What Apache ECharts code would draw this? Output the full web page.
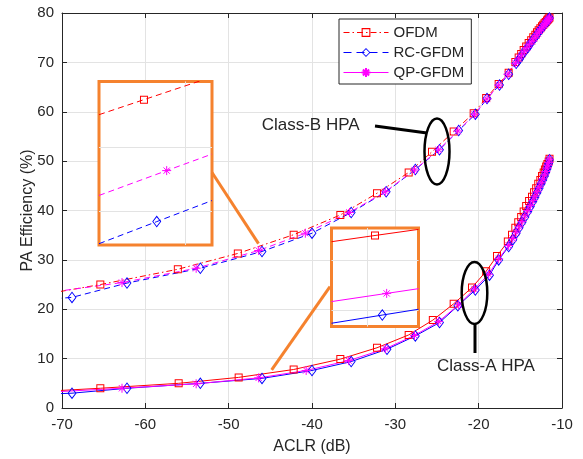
<!DOCTYPE html>
<html>
<head>
<meta charset="utf-8">
<script src="https://cdn.jsdelivr.net/npm/echarts@6/dist/echarts.min.js"></script>
<style>
html, body { margin: 0; background: #fff; }
#chart { width: 583px; height: 459px; }
</style>
</head>
<body>
<div id="chart"></div>
<script>
// Class-B HPA curves (ACLR in dB, efficiency in %)
const ofdmBX = [-75, -65.4, -56.1, -48.9, -42.2, -36.6, -32.2, -28.4, -25.6, -23.0, -20.6, -19.1, -17.6, -16.4, -15.6, -15.2, -14.9, -14.6, -14.3, -14.0, -13.7, -13.45, -13.2, -13.0, -12.8, -12.6, -12.4, -12.25, -12.1, -11.95, -11.8, -11.7, -11.6, -11.5];
const ofdmBY = [22.2, 25.0, 28.1, 31.3, 35.1, 39.1, 43.5, 47.7, 51.9, 56.0, 59.7, 62.8, 65.6, 67.9, 70.1, 71.0, 71.7, 72.5, 73.2, 73.9, 74.5, 75.1, 75.6, 76.1, 76.5, 76.9, 77.3, 77.6, 77.9, 78.2, 78.5, 78.7, 78.9, 79.1];
const rcBX = [-72, -68.8, -62.2, -53.4, -46.0, -40.0, -35.3, -31.1, -27.6, -24.7, -22.4, -20.4, -19.0, -17.5, -16.4, -15.5, -15.1, -14.8, -14.45, -14.1, -13.85, -13.6, -13.35, -13.1, -12.9, -12.7, -12.5, -12.3, -12.15, -12.0, -11.85, -11.7, -11.6, -11.5];
const rcBY = [22.0, 22.4, 25.3, 28.3, 31.7, 35.4, 39.6, 43.8, 48.3, 52.3, 56.2, 59.5, 62.7, 65.4, 67.6, 69.8, 70.7, 71.5, 72.3, 73.0, 73.7, 74.3, 74.9, 75.4, 75.9, 76.4, 76.8, 77.2, 77.6, 77.9, 78.2, 78.5, 78.8, 79.0];
const qpBX = [-72, -62.8, -53.9, -46.4, -40.8, -35.5, -31.2, -27.7, -24.8, -22.5, -20.5, -19.0, -17.6, -16.5, -15.6, -15.2, -14.85, -14.5, -14.2, -13.9, -13.6, -13.35, -13.1, -12.9, -12.7, -12.5, -12.3, -12.15, -12.0, -11.85, -11.7, -11.6, -11.5];
const qpBY = [23.3, 25.4, 28.3, 31.9, 35.4, 39.6, 43.8, 48.2, 52.3, 56.1, 59.5, 62.6, 65.4, 67.6, 69.8, 70.7, 71.5, 72.3, 73.0, 73.7, 74.3, 74.9, 75.4, 75.9, 76.4, 76.8, 77.2, 77.6, 77.9, 78.2, 78.5, 78.8, 79.0];

// Class-A HPA curves
const ofdmAX = [-75, -65.4, -56.0, -48.8, -42.2, -36.6, -32.2, -28.4, -25.5, -23.0, -20.8, -19.1, -17.8, -16.5, -16.0, -15.6, -15.25, -14.9, -14.6, -14.3, -13.95, -13.6, -13.35, -13.1, -12.85, -12.6, -12.4, -12.2, -12.05, -11.9, -11.75, -11.6, -11.5];
const ofdmAY = [3.1, 4.0, 5.0, 6.2, 7.8, 9.9, 12.2, 14.8, 17.8, 21.1, 24.4, 27.7, 30.8, 33.7, 35.1, 36.5, 37.6, 38.7, 39.8, 40.9, 41.9, 42.8, 43.7, 44.5, 45.4, 46.2, 47.0, 47.7, 48.3, 48.9, 49.4, 49.9, 50.5];
const rcAX = [-72, -68.8, -62.2, -53.4, -46.0, -40.0, -35.3, -31.0, -27.6, -24.7, -22.5, -20.4, -18.7, -17.6, -16.4, -15.9, -15.5, -15.15, -14.8, -14.45, -14.1, -13.8, -13.5, -13.25, -13.0, -12.75, -12.5, -12.3, -12.1, -11.95, -11.8, -11.7, -11.6, -11.5];
const rcAY = [2.8, 3.0, 4.0, 5.0, 6.0, 7.6, 9.4, 11.9, 14.6, 17.3, 20.7, 23.9, 26.9, 30.0, 32.7, 34.1, 35.4, 36.5, 37.6, 38.7, 39.8, 40.8, 41.8, 42.7, 43.6, 44.5, 45.4, 46.2, 47.0, 47.7, 48.4, 49.0, 49.5, 50.3];
const qpAX = [-75, -62.8, -53.9, -46.4, -40.7, -35.6, -31.2, -27.7, -24.8, -22.4, -20.5, -18.8, -17.6, -16.4, -15.9, -15.5, -15.15, -14.8, -14.45, -14.1, -13.8, -13.5, -13.25, -13.0, -12.75, -12.5, -12.3, -12.1, -11.95, -11.8, -11.7, -11.6, -11.5];
const qpAY = [2.9, 4.0, 4.9, 6.1, 7.6, 9.6, 12.0, 14.7, 17.5, 20.9, 24.1, 27.1, 30.2, 32.9, 34.3, 35.6, 36.7, 37.8, 38.9, 40.0, 41.0, 42.0, 42.9, 43.8, 44.7, 45.6, 46.4, 47.2, 47.9, 48.6, 49.2, 49.7, 50.4];

// zoomed insets (own 0..10 units), middle point carries the marker
const insBOfdmX = [0, 3.98, 10], insBOfdmY = [7.97, 8.89, 10.28];
const insBQpX = [0, 5.99, 10], insBQpY = [3.03, 4.55, 5.56];
const insBRcX = [0, 5.11, 10], insBRcY = [0.08, 1.43, 2.72];
const insAOfdmX = [0, 5.0, 10], insAOfdmY = [8.61, 9.24, 9.86];
const insAQpX = [0, 6.34, 10], insAQpY = [2.53, 3.36, 3.84];
const insARcX = [0, 5.84, 10], insARcY = [0.33, 1.16, 1.75];
const insBVLines = [7.67], insBHLines = [5.95, 2.08];
const insAVLines = [4.11], insAHLines = [6.77, 1.70];

// connector lines from the insets to the curves
const connBX = [-52.0, -46.42], connBY = [47.7, 33.3];
const connAX = [-37.84, -44.84], connAY = [24.57, 7.70];

const RED = '#ff0000', BLUE = '#0000ff', MAG = '#ff00ff', ORANGE = '#f5822e', INK = '#262626';
const SQ = 'path://M0,0H8V8H0Z M1,1V7H7V1Z';
const DIA = 'path://M0,0L4.5,6L0,12L-4.5,6Z M0,1.6L-3.4,6L0,10.4L3.4,6Z';
const STAR = 'path://M5,0V10M0,5H10M1.5,1.5L8.5,8.5M1.5,8.5L8.5,1.5';
const FONT = 'Liberation Sans';

function pairs(xs, ys) { return xs.map((x, i) => [x, ys[i]]); }

const styles = {
    'OFDM': { color: RED, symbol: SQ, size: 8, border: 0 },
    'RC-GFDM': { color: BLUE, symbol: DIA, size: [9, 12], border: 0 },
    'QP-GFDM': { color: MAG, symbol: STAR, size: 9, border: 1 }
};

function mainSeries(name, xs, ys, dash) {
    const s = styles[name];
    return {
        name: name, type: 'line', xAxisIndex: 0, yAxisIndex: 0,
        data: pairs(xs, ys),
        symbol: s.symbol, symbolSize: s.size,
        itemStyle: { color: s.color, borderColor: s.color, borderWidth: s.border },
        lineStyle: { color: s.color, width: 1, type: dash },
        emphasis: { disabled: true }
    };
}

function insetSeries(name, axis, xs, ys, dash, vl, hl) {
    const s = styles[name];
    const ser = {
        type: 'line', xAxisIndex: axis, yAxisIndex: axis,
        data: xs.map((x, i) => ({ value: [x, ys[i]], symbol: i === 1 ? s.symbol : 'none' })),
        symbol: s.symbol, symbolSize: s.size,
        itemStyle: { color: s.color, borderColor: s.color, borderWidth: s.border },
        lineStyle: { color: s.color, width: 1, type: dash },
        emphasis: { disabled: true }
    };
    if (vl) {
        ser.markLine = {
            silent: true, symbol: ['none', 'none'], label: { show: false }, z: 1, animation: false,
            lineStyle: { color: '#e3e3e3', type: 'solid', width: 1 },
            data: vl.map(v => ({ xAxis: v })).concat(hl.map(v => ({ yAxis: v })))
        };
    }
    return ser;
}

function connector(xs, ys) {
    return {
        type: 'line', xAxisIndex: 0, yAxisIndex: 0, data: pairs(xs, ys),
        symbol: 'none', lineStyle: { color: ORANGE, width: 3 }, emphasis: { disabled: true }, z: 3
    };
}

const DASH = [6, 4];
const DASHDOT = [6, 3, 1.5, 3];

const chart = echarts.init(document.getElementById('chart'));
const option = {
    animation: false,
    textStyle: { fontFamily: FONT },
    grid: [
        { left: 62, top: 13, right: 21, bottom: 51, outerBoundsMode: 'none' },
        { left: 99, top: 81.5, width: 113, height: 163.5, show: true, backgroundColor: '#fff', borderColor: ORANGE, borderWidth: 3, z: 1, outerBoundsMode: 'none' },
        { left: 331.5, top: 228, width: 87, height: 98.5, show: true, backgroundColor: '#fff', borderColor: ORANGE, borderWidth: 3, z: 1, outerBoundsMode: 'none' }
    ],
    legend: {
        orient: 'vertical', left: 339, top: 19,
        padding: [6, 7, 4, 4],
        backgroundColor: '#fff', borderColor: INK, borderWidth: 1, borderRadius: 0,
        itemWidth: 45, itemHeight: 11, itemGap: 5,
        textStyle: { fontSize: 15, color: INK, fontFamily: FONT },
        data: [
            { name: 'OFDM', lineStyle: { type: DASHDOT, width: 1 } },
            { name: 'RC-GFDM', lineStyle: { type: [8, 5], width: 1 } },
            { name: 'QP-GFDM', lineStyle: { type: 'solid', width: 1 } }
        ]
    },
    xAxis: [
        {
            type: 'value', gridIndex: 0, min: -70, max: -10, interval: 10, position: 'bottom',
            name: 'ACLR (dB)', nameLocation: 'middle', nameGap: 31, nameMoveOverlap: false,
            nameTextStyle: { fontSize: 16, color: INK, fontFamily: FONT },
            axisLine: { show: true, onZero: false, lineStyle: { color: INK, width: 1 } },
            axisTick: { show: true, inside: true, length: 5, lineStyle: { color: INK } },
            axisLabel: { fontSize: 15, color: INK, margin: 9, fontFamily: FONT },
            splitLine: { show: true, lineStyle: { color: '#e3e3e3', width: 1 } }
        },
        {
            type: 'value', gridIndex: 0, min: -70, max: -10, interval: 10, position: 'top',
            axisLine: { show: true, onZero: false, lineStyle: { color: INK, width: 1 } },
            axisTick: { show: true, inside: true, length: 5, lineStyle: { color: INK } },
            axisLabel: { show: false }, splitLine: { show: false }
        },
        { type: 'value', gridIndex: 1, min: 0, max: 10, show: false },
        { type: 'value', gridIndex: 2, min: 0, max: 10, show: false }
    ],
    yAxis: [
        {
            type: 'value', gridIndex: 0, min: 0, max: 80, interval: 10, position: 'left',
            name: 'PA Efficiency (%)', nameLocation: 'middle', nameGap: 26, nameMoveOverlap: false,
            nameTextStyle: { fontSize: 16, color: INK, fontFamily: FONT },
            axisLine: { show: true, onZero: false, lineStyle: { color: INK, width: 1 } },
            axisTick: { show: true, inside: true, length: 5, lineStyle: { color: INK } },
            axisLabel: { fontSize: 15, color: INK, margin: 8, fontFamily: FONT },
            splitLine: { show: true, lineStyle: { color: '#e3e3e3', width: 1 } }
        },
        {
            type: 'value', gridIndex: 0, min: 0, max: 80, interval: 10, position: 'right',
            axisLine: { show: true, onZero: false, lineStyle: { color: INK, width: 1 } },
            axisTick: { show: true, inside: true, length: 5, lineStyle: { color: INK } },
            axisLabel: { show: false }, splitLine: { show: false }
        },
        { type: 'value', gridIndex: 1, min: 0, max: 10, show: false },
        { type: 'value', gridIndex: 2, min: 0, max: 10, show: false }
    ],
    series: [
        mainSeries('OFDM', ofdmBX, ofdmBY, DASHDOT),
        mainSeries('RC-GFDM', rcBX, rcBY, DASH),
        mainSeries('QP-GFDM', qpBX, qpBY, DASH),
        mainSeries('OFDM', ofdmAX, ofdmAY, 'solid'),
        mainSeries('RC-GFDM', rcAX, rcAY, 'solid'),
        mainSeries('QP-GFDM', qpAX, qpAY, 'solid'),
        insetSeries('OFDM', 2, insBOfdmX, insBOfdmY, DASH, insBVLines, insBHLines),
        insetSeries('QP-GFDM', 2, insBQpX, insBQpY, DASH),
        insetSeries('RC-GFDM', 2, insBRcX, insBRcY, DASH),
        insetSeries('OFDM', 3, insAOfdmX, insAOfdmY, 'solid', insAVLines, insAHLines),
        insetSeries('QP-GFDM', 3, insAQpX, insAQpY, 'solid'),
        insetSeries('RC-GFDM', 3, insARcX, insARcY, 'solid'),
        connector(connBX, connBY),
        connector(connAX, connAY)
    ]
};
chart.setOption(option);

// annotations placed in data coordinates
const px = p => chart.convertToPixel({ gridIndex: 0 }, p);
const eB = px([-25.0, 51.95]), eA = px([-20.5, 23.3]);
const lB1 = px([-32.44, 57.11]), lB2 = px([-26.2, 55.7]);
const lA1 = px([-20.44, 17.01]), lA2 = px([-20.44, 11.14]);
const tB = px([-46.04, 57.32]), tA = px([-25.0, 8.36]);
const annot = { fontSize: 17, fontFamily: FONT, fill: INK, align: 'left', verticalAlign: 'middle' };
chart.setOption({
    graphic: [
        { type: 'ellipse', z: 10, shape: { cx: eB[0], cy: eB[1], rx: 12.5, ry: 33 }, style: { fill: 'none', stroke: '#000', lineWidth: 2.5 } },
        { type: 'ellipse', z: 10, shape: { cx: eA[0], cy: eA[1], rx: 12.8, ry: 31 }, style: { fill: 'none', stroke: '#000', lineWidth: 2.5 } },
        { type: 'line', z: 10, shape: { x1: lB1[0], y1: lB1[1], x2: lB2[0], y2: lB2[1] }, style: { stroke: '#000', lineWidth: 3 } },
        { type: 'line', z: 10, shape: { x1: lA1[0], y1: lA1[1], x2: lA2[0], y2: lA2[1] }, style: { stroke: '#000', lineWidth: 3 } },
        { type: 'text', z: 10, x: tB[0], y: tB[1], style: Object.assign({ text: 'Class-B HPA' }, annot) },
        { type: 'text', z: 10, x: tA[0], y: tA[1], style: Object.assign({ text: 'Class-A HPA' }, annot) }
    ]
});
</script>
</body>
</html>
